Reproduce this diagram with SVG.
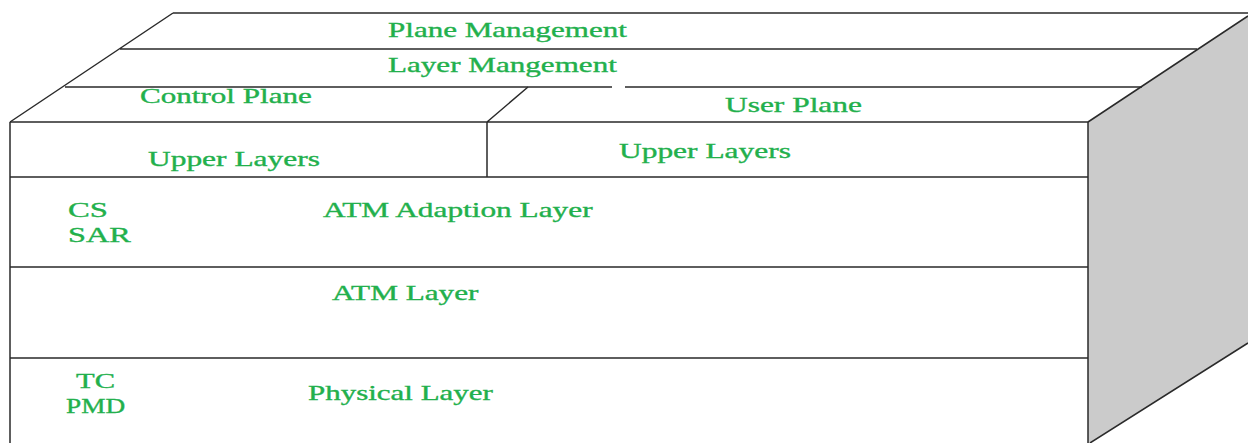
<svg xmlns="http://www.w3.org/2000/svg" width="1248" height="443" viewBox="0 0 1248 443">
<style>
.ln{stroke:#2a2a2a;stroke-width:1.5;fill:none}
.t{font-family:"Liberation Serif","Times New Roman",serif;font-size:21px;fill:#22b04c;stroke:#22b04c;stroke-width:0.35}
</style>
<rect width="1248" height="443" fill="#ffffff"/>
<g id="side-face">
<polygon points="1088,122 1248,16 1248,343 1090,443 1088,443" fill="#cbcbcb" stroke="none"/>
<path class="ln" d="M1088,122 L1248,16 M1090,443 L1248,343"/>
</g>
<g id="top-face">
<path class="ln" d="M173,13 L1248,13 M10,122 L173,13 M120,49 L1197,49 M65,87 L612,87 M625,87 L1142,87"/>
</g>
<g id="front-face">
<path class="ln" d="M10,122 L1088,122 M10,122 L10,443 M1088,122 L1088,443 M10,177 L1088,177 M10,267 L1088,267 M10,358 L1088,358 M487,122 L487,177 M487,122 L528,87"/>
</g>
<g id="plane-management"><text class="t" transform="translate(388,37) scale(1.479,1)">Plane Management</text></g>
<g id="layer-management"><text class="t" transform="translate(388,72) scale(1.482,1)">Layer Mangement</text></g>
<g id="control-plane"><text class="t" transform="translate(140,103) scale(1.481,1)">Control Plane</text></g>
<g id="user-plane"><text class="t" transform="translate(725,112) scale(1.496,1)">User Plane</text></g>
<g id="upper-layers-control"><text class="t" transform="translate(148,166) scale(1.497,1)">Upper Layers</text></g>
<g id="upper-layers-user"><text class="t" transform="translate(619,158) scale(1.497,1)">Upper Layers</text></g>
<g id="aal">
<text class="t" transform="translate(68,217) scale(1.557,1)">CS</text>
<text class="t" transform="translate(68,242) scale(1.54,1)">SAR</text>
<text class="t" transform="translate(323,217) scale(1.492,1)">ATM Adaption Layer</text>
</g>
<g id="atm-layer"><text class="t" transform="translate(332,300) scale(1.487,1)">ATM Layer</text></g>
<g id="physical-layer">
<text class="t" transform="translate(76,388) scale(1.455,1)">TC</text>
<text class="t" transform="translate(66,413) scale(1.3,1)">PMD</text>
<text class="t" transform="translate(308,400) scale(1.475,1)">Physical Layer</text>
</g>
</svg>
